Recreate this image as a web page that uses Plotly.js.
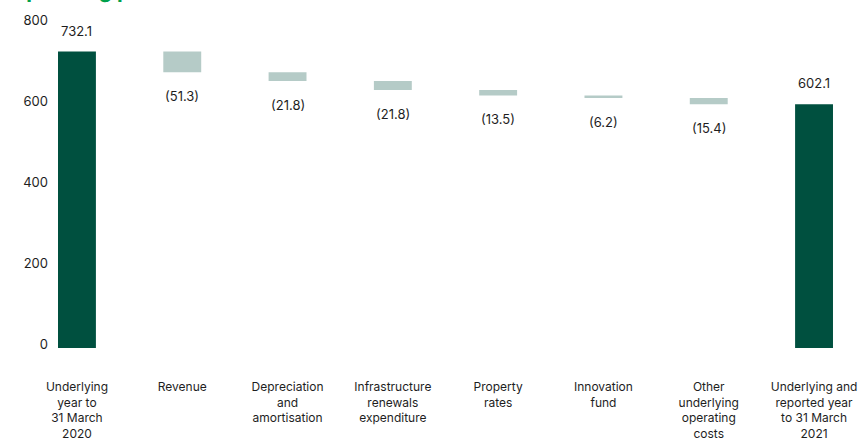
<!DOCTYPE html>
<html>
<head>
<meta charset="utf-8">
<script src="https://cdn.plot.ly/plotly-3.0.1.min.js"></script>
<style>
html,body{margin:0;padding:0;background:#fff;}
#chart{width:861px;height:439px;}
</style>
</head>
<body>
<div id="chart"></div>
<script>
const categories = [
  'Underlying<br>year to<br>31 March<br>2020',
  'Revenue',
  'Depreciation<br>and<br>amortisation',
  'Infrastructure<br>renewals<br>expenditure',
  'Property<br>rates',
  'Innovation<br>fund',
  'Other<br>underlying<br>operating<br>costs',
  'Underlying and<br>reported year<br>to 31 March<br>2021'
];
const measures = ['absolute','relative','relative','relative','relative','relative','relative','total'];
const values = [732.1, -51.3, -21.8, -21.8, -13.5, -6.2, -15.4, 602.1];
const valueLabels = ['732.1','(51.3)','(21.8)','(21.8)','(13.5)','(6.2)','(15.4)','602.1'];
const yTicks = [0, 200, 400, 600, 800];
const titleText = 'Operating profit';

const DARK = '#00503f';
const LIGHT = '#b5cbc7';
const TXT = '#1e1e1e';
const FONT = 'Inter, "Liberation Sans", Arial, sans-serif';

// compute label anchor points from the data
const annotations = [];
let running = 0;
for (let i = 0; i < values.length; i++) {
  if (measures[i] === 'absolute') {
    running = values[i];
    annotations.push({x: categories[i], y: running, yanchor: 'bottom', yshift: 11});
  } else if (measures[i] === 'total') {
    annotations.push({x: categories[i], y: running, yanchor: 'bottom', yshift: 11});
  } else {
    const before = running;
    running = running + values[i];
    const low = Math.min(before, running);
    annotations.push({x: categories[i], y: low, yanchor: 'top', yshift: -14});
  }
}
const annos = annotations.map((a, i) => ({
  x: a.x, y: a.y, xref: 'x', yref: 'y', yanchor: a.yanchor, xanchor: 'center',
  yshift: a.yshift, text: valueLabels[i], showarrow: false,
  font: {family: FONT, size: 13, color: TXT}
}));
annos.push({
  xref: 'paper', yref: 'paper', x: 0, y: 1, xanchor: 'left', yanchor: 'bottom',
  xshift: -50, yshift: 19, text: '<b>' + titleText + '</b>', showarrow: false,
  font: {family: FONT, size: 21, color: '#00a04a'}
});

const trace = {
  type: 'waterfall',
  x: categories,
  y: values,
  measure: measures,
  decreasing: {marker: {color: LIGHT}},
  increasing: {marker: {color: LIGHT}},
  totals: {marker: {color: DARK}},
  connector: {visible: false},
  textposition: 'none',
  hoverinfo: 'skip'
};

const layout = {
  width: 861, height: 439,
  margin: {l: 58, r: 8, t: 24, b: 91},
  paper_bgcolor: '#ffffff', plot_bgcolor: '#ffffff',
  showlegend: false,
  waterfallgap: 0.64,
  font: {family: FONT, size: 13, color: TXT},
  xaxis: {
    type: 'category',
    range: [-0.18, 7.37],
    showgrid: false, zeroline: false, showline: false,
    ticks: '', ticklabelstandoff: 30,
    tickfont: {family: FONT, size: 12, color: TXT},
    fixedrange: true
  },
  yaxis: {
    range: [0, 800],
    tickvals: yTicks,
    ticktext: yTicks.map(String),
    showgrid: false, zeroline: false, showline: false,
    ticks: '', ticklabelshift: -4, ticklabelstandoff: 9,
    tickfont: {family: FONT, size: 13, color: TXT},
    fixedrange: true
  },
  annotations: annos
};

Plotly.newPlot('chart', [trace], layout, {displayModeBar: false, staticPlot: true});
</script>
</body>
</html>
